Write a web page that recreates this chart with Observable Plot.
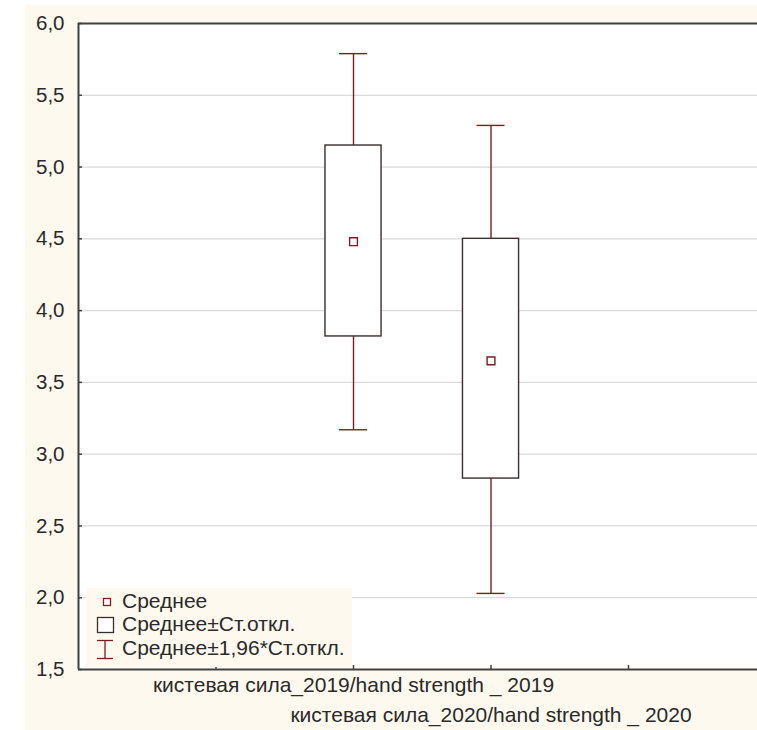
<!DOCTYPE html>
<html>
<head>
<meta charset="utf-8">
<script src="https://cdn.jsdelivr.net/npm/d3@7"></script>
<script src="https://cdn.jsdelivr.net/npm/@observablehq/plot@0.6"></script>
<style>
  html, body { margin: 0; padding: 0; background: #ffffff; overflow: hidden; }
  #wrap { position: relative; width: 757px; height: 730px; overflow: hidden; font-family: "Liberation Sans", Arial, sans-serif; }
  #bg { position: absolute; left: 25px; top: 5px; right: 0; bottom: 0; background: #fdf9ee; }
  #chart { position: absolute; left: 0; top: 0; }
  #legend { position: absolute; left: 86px; top: 588px; width: 266px; height: 79px; background: #fdf9ee; }
  .row { position: absolute; left: 0; height: 23px; font-size: 21px; color: #2a2a2a; }
  .row svg { position: absolute; left: 0; top: 0; }
  .row span { position: absolute; left: 36px; white-space: nowrap; line-height: 23px; }
</style>
</head>
<body>
<div id="wrap">
  <div id="bg"></div>
  <div id="chart"></div>
  <div id="legend">
    <div class="row" style="top:2px;">
      <svg width="30" height="23"><rect x="17.5" y="8.5" width="7" height="7" fill="white" stroke="#7a1f1f" stroke-width="1.3"/></svg>
      <span style="top:-1px;">Среднее</span>
    </div>
    <div class="row" style="top:25px;">
      <svg width="30" height="23"><rect x="11.5" y="4.5" width="16" height="15" fill="white" stroke="#3a2e2e" stroke-width="1.3"/></svg>
      <span style="top:-1px;">Среднее±Ст.откл.</span>
    </div>
    <div class="row" style="top:48px;">
      <svg width="30" height="26"><line x1="11" x2="27" y1="4.5" y2="4.5" stroke="#7a1f1f" stroke-width="1.3"/><line x1="19" x2="19" y1="4.5" y2="22.5" stroke="#7a1f1f" stroke-width="1.3"/><line x1="11" x2="27" y1="22.5" y2="22.5" stroke="#7a1f1f" stroke-width="1.3"/></svg>
      <span style="top:0px;">Среднее±1,96*Ст.откл.</span>
    </div>
  </div>
</div>
<script>
// Data
const categories = ["кистевая сила_2019/hand strength _ 2019", "кистевая сила_2020/hand strength _ 2020"];
const positions = [2, 3];
const means = [4.48, 3.65];
const sdLow = [3.82, 2.83];
const sdHigh = [5.15, 4.50];
const ciLow = [3.17, 2.03];
const ciHigh = [5.79, 5.29];
const yTicks = [1.5, 2.0, 2.5, 3.0, 3.5, 4.0, 4.5, 5.0, 5.5, 6.0];
const gridTicks = [2.0, 2.5, 3.0, 3.5, 4.0, 4.5, 5.0, 5.5];
const xTicks = [1, 2, 3, 4];
const yDomain = [1.5, 6.0];
const xDomain = [0, 4.938];

const data = categories.map((c, i) => ({
  cat: c, pos: positions[i], mean: means[i],
  lo: sdLow[i], hi: sdHigh[i], ciLo: ciLow[i], ciHi: ciHigh[i]
}));

const boxHalf = 0.204;   // box half-width in x units
const capHalf = 0.102;   // cap half-width in x units
const whisk = "#7a1f1f";
const boxStroke = "#3a2e2e";
const axisColor = "#404040";
const textColor = "#2a2a2a";

const chart = Plot.plot({
  width: 757,
  height: 730,
  marginLeft: 78,
  marginTop: 23,
  marginBottom: 61,
  marginRight: 0,
  style: { background: "transparent", fontFamily: "'Liberation Sans', Arial, sans-serif", fontSize: "21px", color: textColor, overflow: "visible" },
  x: { domain: xDomain, axis: null },
  y: { domain: yDomain, axis: null },
  marks: [
    Plot.frame({ fill: "white", stroke: null }),
    Plot.ruleY(gridTicks, { y: d => d, stroke: "#dadada", strokeWidth: 1.2 }),
    // whiskers
    Plot.ruleX(data, { x: "pos", y1: "ciLo", y2: "lo", stroke: whisk, strokeWidth: 1.4 }),
    Plot.ruleX(data, { x: "pos", y1: "hi", y2: "ciHi", stroke: whisk, strokeWidth: 1.4 }),
    Plot.ruleY(data, { y: "ciHi", x1: d => d.pos - capHalf, x2: d => d.pos + capHalf, stroke: whisk, strokeWidth: 1.4 }),
    Plot.ruleY(data, { y: "ciLo", x1: d => d.pos - capHalf, x2: d => d.pos + capHalf, stroke: whisk, strokeWidth: 1.4 }),
    // boxes
    Plot.rect(data, { x1: d => d.pos - boxHalf, x2: d => d.pos + boxHalf, y1: "lo", y2: "hi", fill: "white", stroke: boxStroke, strokeWidth: 1.4 }),
    // means
    Plot.dot(data, { x: "pos", y: "mean", symbol: "square", r: 4.4, fill: "white", stroke: whisk, strokeWidth: 1.4 }),
    // axes
    Plot.axisY(yTicks, { anchor: "left", tickSize: 0, tickPadding: 14, tickFormat: d => d.toFixed(1).replace(".", ","), fontSize: 20.5, fill: textColor, label: null }),
    Plot.axisY(yTicks, { anchor: "left", tickSize: -4, text: null, stroke: axisColor, strokeWidth: 1.5, label: null }),
    Plot.axisX(xTicks, { anchor: "bottom", tickSize: -4, text: null, stroke: axisColor, strokeWidth: 1.5, label: null }),
    Plot.ruleX([xDomain[0]], { x: d => d, stroke: axisColor, strokeWidth: 2 }),
    Plot.ruleY([yDomain[0]], { y: d => d, stroke: axisColor, strokeWidth: 2 }),
    Plot.ruleY([yDomain[1]], { y: d => d, stroke: axisColor, strokeWidth: 2 }),
    // category labels under the axis (staggered)
    Plot.text(data.slice(0, 1), { x: "pos", text: "cat", frameAnchor: "bottom", lineAnchor: "middle", dy: 16, fontSize: 21, fill: textColor }),
    Plot.text(data.slice(1, 2), { x: "pos", text: "cat", frameAnchor: "bottom", lineAnchor: "middle", dy: 46, fontSize: 21, fill: textColor })
  ]
});
document.getElementById("chart").appendChild(chart);
</script>
</body>
</html>
